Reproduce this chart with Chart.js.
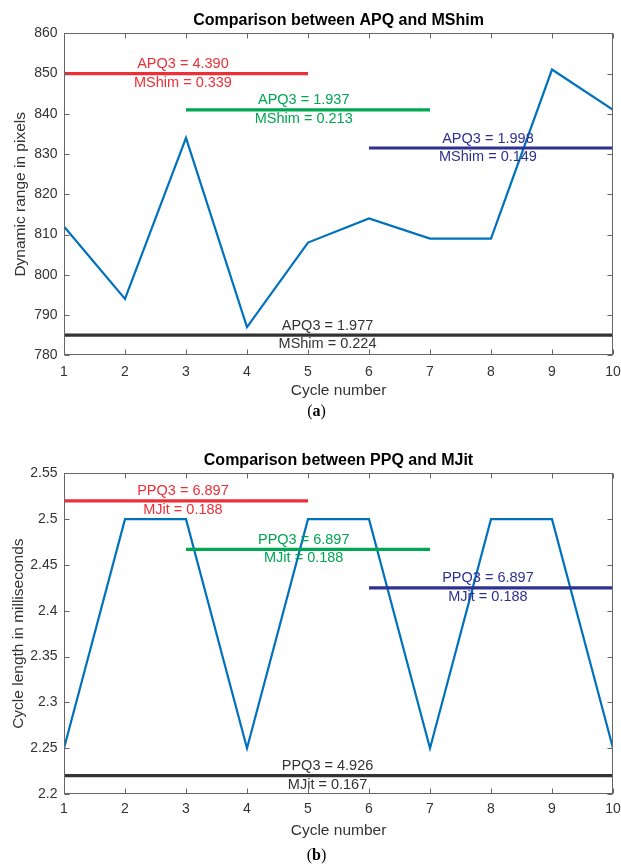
<!DOCTYPE html>
<html>
<head>
<meta charset="utf-8">
<script src="https://cdn.jsdelivr.net/npm/chart.js@4/dist/chart.umd.min.js"></script>
<style>
  html, body { margin: 0; background: #fff; }
  .panel { position: relative; width: 621px; height: 440px; }
  .panel canvas { display: block; }
  .cap { position: absolute; left: 6px; width: 621px; text-align: center;
    font: 16px "Liberation Serif", "Times New Roman", serif; color: #000; line-height: 18px; }
</style>
</head>
<body>
<div class="panel">
  <canvas id="chartA" width="621" height="440"></canvas>
  <div class="cap" style="top:402px">(<b>a</b>)</div>
</div>
<div class="panel">
  <canvas id="chartB" width="621" height="440"></canvas>
  <div class="cap" style="top:406px">(<b>b</b>)</div>
</div>
<script>
// Two MATLAB-style panels: dynamic range (a) and cycle length (b) per cycle.

const cycles = [1, 2, 3, 4, 5, 6, 7, 8, 9, 10];
const dynRange = [812, 794, 834, 787, 808, 814, 809, 809, 851, 841];
const cycleLen = [2.25, 2.5, 2.5, 2.25, 2.5, 2.5, 2.25, 2.5, 2.5, 2.25];

const xTicks = [1, 2, 3, 4, 5, 6, 7, 8, 9, 10];
const yTicksA = [780, 790, 800, 810, 820, 830, 840, 850, 860];
const yTicksB = [2.2, 2.25, 2.3, 2.35, 2.4, 2.45, 2.5, 2.55];

// horizontal reference segments (same spans in both panels)
const segStart = [1, 3, 6, 1];
const segEnd = [5, 7, 10, 10];
const labelX = [2.95, 4.93, 7.95, 5.32];
const levelA = [850, 841, 831.5, 785];
const levelB = [2.52, 2.467, 2.425, 2.22];
const apq3 = ["4.390", "1.937", "1.998", "1.977"];
const mshim = ["0.339", "0.213", "0.149", "0.224"];
const ppq3 = ["6.897", "6.897", "6.897", "4.926"];
const mjit = ["0.188", "0.188", "0.188", "0.167"];

const segColors = ["#ED2F38", "#00A651", "#2E3192", "#333333"];
const SANS = "'Liberation Sans', Arial, Helvetica, sans-serif";

Chart.defaults.font.family = SANS;
Chart.defaults.color = "#333";

// box, inward ticks on all four sides, and the two-line labels on each segment
const frame = {
  id: "frame",
  afterDatasetsDraw(chart, args, opts) {
    const { ctx, chartArea: a, scales: { x, y } } = chart;
    ctx.save();
    ctx.font = "14.5px " + SANS;
    ctx.textAlign = "center";
    ctx.textBaseline = "middle";
    opts.levels.forEach((lv, i) => {
      const px = x.getPixelForValue(labelX[i]);
      const py = y.getPixelForValue(lv);
      ctx.fillStyle = segColors[i];
      ctx.fillText(opts.top[i], px, py - 9.5);
      ctx.fillText(opts.bottom[i], px, py + 9);
    });

    const L = Math.round(a.left) + 0.5, R = Math.round(a.right) - 0.5;
    const T = Math.round(a.top) + 0.5, B = Math.round(a.bottom) - 0.5;
    const tl = 5;
    ctx.strokeStyle = "#666";
    ctx.lineWidth = 1;
    ctx.strokeRect(L, T, R - L, B - T);
    ctx.beginPath();
    x.ticks.forEach((t) => {
      const px = Math.round(x.getPixelForValue(t.value)) + 0.5;
      ctx.moveTo(px, B); ctx.lineTo(px, B - tl);
      ctx.moveTo(px, T); ctx.lineTo(px, T + tl);
    });
    y.ticks.forEach((t) => {
      const py = Math.round(y.getPixelForValue(t.value)) + 0.5;
      ctx.moveTo(L, py); ctx.lineTo(L + tl, py);
      ctx.moveTo(R, py); ctx.lineTo(R - tl, py);
    });
    ctx.stroke();
    ctx.restore();
  },
};

function makeChart(id, p) {
  const segs = p.levels.map((lv, i) => ({
    data: [{ x: segStart[i], y: lv }, { x: segEnd[i], y: lv }],
    borderColor: segColors[i], borderWidth: 3.2, pointRadius: 0,
  }));
  const series = {
    data: cycles.map((c, i) => ({ x: c, y: p.values[i] })),
    borderColor: "#0072BD", borderWidth: 2.2, pointRadius: 0, tension: 0,
  };
  return new Chart(document.getElementById(id), {
    type: "line",
    data: { datasets: [...segs, series] },
    options: {
      responsive: false, animation: false,
      layout: { padding: { left: 0, right: 8, top: 0, bottom: 40 } },
      scales: {
        x: {
          type: "linear", min: 1, max: 10,
          afterBuildTicks: (s) => { s.ticks = xTicks.map((v) => ({ value: v })); },
          afterFit: (s) => { s.height = p.xHeight; s.paddingLeft = 0; s.paddingRight = 0; },
          grid: { display: false, drawTicks: false }, border: { display: false },
          ticks: { font: { size: 14 }, padding: p.xPad, maxRotation: 0, autoSkip: false },
          title: { display: true, text: "Cycle number", color: "#333",
            font: { size: 15.5 }, padding: { top: 0, bottom: 0 } },
        },
        y: {
          min: p.yTicks[0], max: p.yTicks[p.yTicks.length - 1],
          afterBuildTicks: (s) => { s.ticks = p.yTicks.map((v) => ({ value: v })); },
          afterFit: (s) => { s.width = 64; },
          grid: { display: false, drawTicks: false }, border: { display: false },
          ticks: { font: { size: 14 }, padding: 6.5, callback: (v) => String(+v.toFixed(2)) },
          title: { display: true, text: p.yTitle, color: "#333",
            font: { size: 15.5 }, padding: { top: p.yTitlePad, bottom: 0 } },
        },
      },
      plugins: {
        legend: { display: false },
        tooltip: { enabled: false },
        title: { display: true, text: p.title, color: "#000", fullSize: false,
          font: { size: 16, weight: "bold" }, padding: { top: 11.1, bottom: 3 } },
        frame: { levels: p.levels, top: p.top, bottom: p.bottom },
      },
    },
    plugins: [frame],
  });
}

makeChart("chartA", {
  title: "Comparison between APQ and MShim", yTitle: "Dynamic range in pixels",
  values: dynRange, yTicks: yTicksA, levels: levelA,
  top: apq3.map((v) => "APQ3 = " + v), bottom: mshim.map((v) => "MShim = " + v),
  xHeight: 44.7, xPad: 8, yTitlePad: 11.7,
});

makeChart("chartB", {
  title: "Comparison between PPQ and MJit", yTitle: "Cycle length in milliseconds",
  values: cycleLen, yTicks: yTicksB, levels: levelB,
  top: ppq3.map((v) => "PPQ3 = " + v), bottom: mjit.map((v) => "MJit = " + v),
  xHeight: 46, xPad: 7, yTitlePad: 9.7,
});
</script>
</body>
</html>
